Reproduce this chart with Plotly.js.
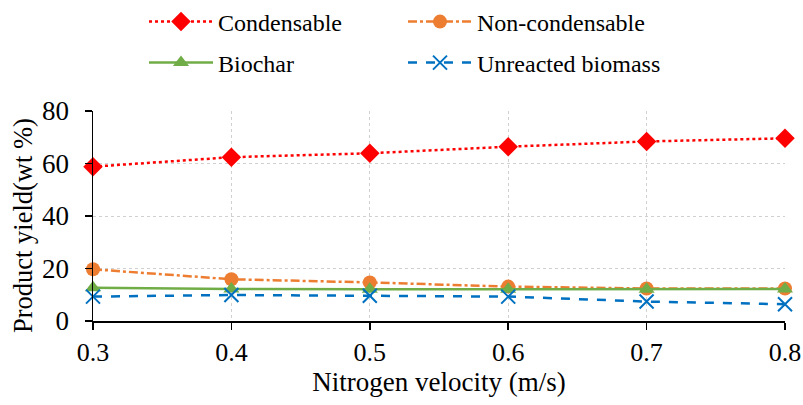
<!DOCTYPE html>
<html>
<head>
<meta charset="utf-8">
<script src="https://cdn.plot.ly/plotly-3.0.1.min.js"></script>
<style>
html,body{margin:0;padding:0;background:#fff;}
#chart{width:803px;height:405px;}
</style>
</head>
<body>
<div id="chart"></div>
<script>
const velocity = [0.3, 0.4, 0.5, 0.6, 0.7, 0.8];
const condensable = [58.8, 62.4, 63.9, 66.4, 68.4, 69.6];
const nonCondensable = [19.7, 15.9, 14.7, 13.1, 12.4, 12.4];
const biochar = [12.7, 12.2, 12.1, 12.1, 12.1, 12.2];
const unreacted = [9.3, 9.9, 9.6, 9.3, 7.4, 6.4];
const seriesNames = ['Condensable', 'Non-condensable', 'Biochar', 'Unreacted biomass'];
const xTitle = 'Nitrogen velocity (m/s)';
const yTitle = 'Product yield(wt %)';

const FONT = 'Liberation Serif';

const traces = [
  {x: velocity, y: condensable, name: seriesNames[0], mode: 'lines+markers', legend: 'legend',
   line: {color: '#ff0000', width: 2.5, dash: 'dot'},
   marker: {symbol: 'diamond', size: 15, color: '#ff0000'}, cliponaxis: false},
  {x: velocity, y: nonCondensable, name: seriesNames[1], mode: 'lines+markers', legend: 'legend',
   line: {color: '#ed7d31', width: 2.5, dash: 'dashdot'},
   marker: {symbol: 'circle', size: 14, color: '#ed7d31'}, cliponaxis: false},
  {x: velocity, y: biochar, name: seriesNames[2], mode: 'lines+markers', legend: 'legend2',
   line: {color: '#70ad47', width: 2.5, dash: 'solid'},
   marker: {symbol: 'triangle-up', size: 14, color: '#70ad47'}, cliponaxis: false},
  {x: velocity, y: unreacted, name: seriesNames[3], mode: 'lines+markers', legend: 'legend2',
   line: {color: '#0070c0', width: 2.5, dash: 'dash'},
   marker: {symbol: 'x-thin-open', size: 14, color: '#0070c0', line: {color: '#0070c0', width: 2}}, cliponaxis: false}
];

const legendCommon = {
  orientation: 'h', xref: 'container', yref: 'container', xanchor: 'left', yanchor: 'middle',
  font: {family: FONT, size: 24, color: '#000'}, itemwidth: 64, entrywidth: 180,
  bgcolor: 'rgba(0,0,0,0)', borderwidth: 0, itemclick: false
};

const layout = {
  width: 803, height: 405,
  margin: {l: 93, r: 18, t: 111, b: 84},
  paper_bgcolor: '#fff', plot_bgcolor: '#fff',
  font: {family: FONT, color: '#000'},
  showlegend: true,
  legend: Object.assign({}, legendCommon, {x: 144/803, y: 1 - 22/405}),
  legend2: Object.assign({}, legendCommon, {x: 144/803, y: 1 - 63/405}),
  xaxis: {
    range: [0.3, 0.8], dtick: 0.1, tick0: 0.3, tickformat: '.1f',
    showline: true, linecolor: '#000', linewidth: 1.5,
    ticks: 'outside', ticklen: 7, tickwidth: 1.5, tickcolor: '#000',
    showgrid: true, gridcolor: '#d0d0d0', griddash: 'dot', gridwidth: 1,
    zeroline: false,
    tickfont: {family: FONT, size: 26, color: '#000'},
    title: {text: xTitle, font: {family: FONT, size: 27, color: '#000'}, standoff: 6}
  },
  yaxis: {
    range: [0, 80], dtick: 20, tick0: 0,
    showline: true, linecolor: '#000', linewidth: 1.5,
    ticks: 'outside', ticklen: 7, tickwidth: 1.5, tickcolor: '#000',
    showgrid: true, gridcolor: '#d0d0d0', griddash: 'dot', gridwidth: 1,
    zeroline: false, ticklabelstandoff: 10,
    tickfont: {family: FONT, size: 27, color: '#000'}
  },
  annotations: [{
    text: yTitle, xref: 'paper', yref: 'paper',
    x: (23 - 93) / 692, y: (321 - 226) / 210, xanchor: 'center', yanchor: 'middle',
    textangle: -90, showarrow: false,
    font: {family: FONT, size: 26.5, color: '#000'}
  }]
};

Plotly.newPlot('chart', traces, layout, {displayModeBar: false, staticPlot: true});
</script>
</body>
</html>
